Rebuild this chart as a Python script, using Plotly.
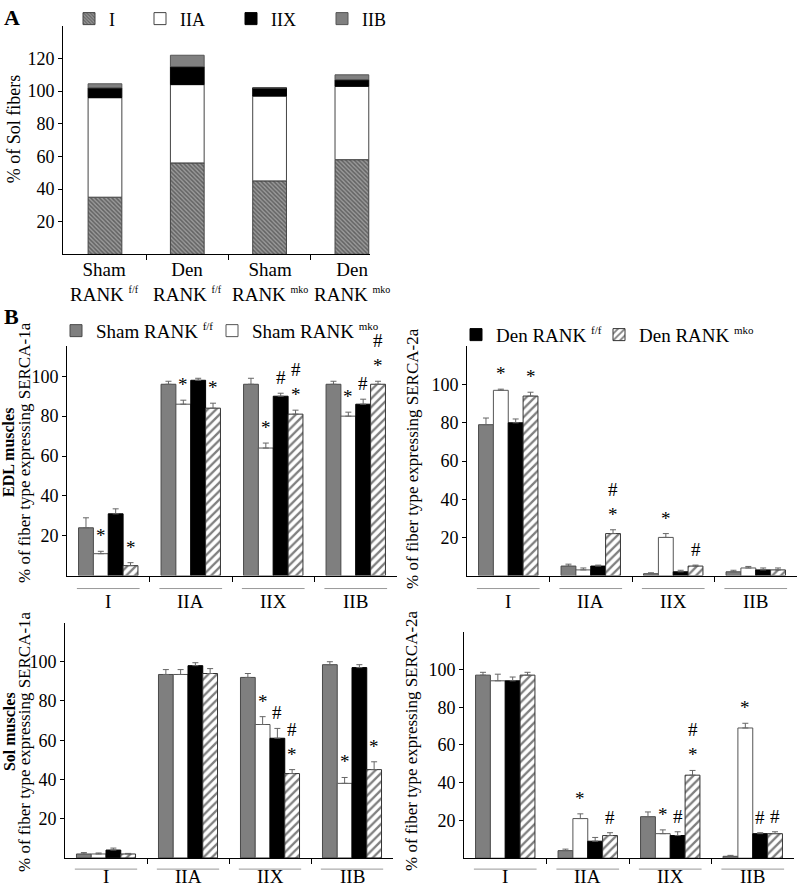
import numpy as np
import plotly.graph_objects as go

W, H = 800, 887
FONT = "Liberation Serif"

# ---------------- data ----------------
# Panel A: stacked % of Sol fibers
a_groups = ["Sham", "Den", "Sham", "Den"]
a_geno = ["f/f", "f/f", "mko", "mko"]
a_types = ["I", "IIA", "IIX", "IIB"]
a_I = [35, 56, 45, 58]
a_IIA = [61, 48, 52, 45]
a_IIX = [6, 11, 5, 4]
a_IIB = [2.5, 7, 0, 3]

# Panel B
fiber_types = ["I", "IIA", "IIX", "IIB"]
series_labels = ["Sham RANK", "Sham RANK", "Den RANK", "Den RANK"]
series_geno = ["f/f", "mko", "f/f", "mko"]

# EDL SERCA-1a
edl1_sham_ff = [24, 96, 96, 96]
edl1_sham_ff_err = [5, 1.5, 3, 1.5]
edl1_sham_mko = [11, 86, 64, 80]
edl1_sham_mko_err = [1.2, 2, 2.5, 2]
edl1_den_ff = [31, 98, 90, 86]
edl1_den_ff_err = [2.5, 1, 1.5, 2.5]
edl1_den_mko = [5, 84, 81, 96]
edl1_den_mko_err = [1.5, 2.5, 2, 1.5]
edl1_marks = [["", "", "", ""], ["*", "*", "*", "*"],
              ["", "", "#", "#"], ["*", "*", "#<br>*", "#<br>*"]]

# EDL SERCA-2a
edl2_sham_ff = [79, 5, 1, 2]
edl2_sham_ff_err = [3.5, 1, 0.5, 0.8]
edl2_sham_mko = [97, 3, 20, 4]
edl2_sham_mko_err = [0.6, 1, 2, 0.8]
edl2_den_ff = [80, 5, 2, 3]
edl2_den_ff_err = [2, 0.5, 0.8, 1]
edl2_den_mko = [94, 22, 5, 3]
edl2_den_mko_err = [2, 2, 0.5, 1]
edl2_marks = [["", "", "", ""], ["*", "", "*", ""],
              ["", "", "", ""], ["*", "#<br>*", "#", ""]]

# Sol SERCA-1a
sol1_sham_ff = [2, 93.5, 92, 98.5]
sol1_sham_ff_err = [0.7, 2.5, 2, 1.5]
sol1_sham_mko = [2, 93.5, 68, 38]
sol1_sham_mko_err = [0.5, 2.5, 4, 3]
sol1_den_ff = [4, 98, 61, 97]
sol1_den_ff_err = [1, 1.5, 5, 1.5]
sol1_den_mko = [2, 94, 43, 45]
sol1_den_mko_err = [0.3, 2.5, 2, 4]
sol1_marks = [["", "", "", ""], ["", "", "*", "*"],
              ["", "", "#", ""], ["", "", "#<br>*", "*"]]

# Sol SERCA-2a
sol2_sham_ff = [97, 4, 22, 1]
sol2_sham_ff_err = [1.5, 0.8, 2.5, 0.5]
sol2_sham_mko = [94, 21, 13, 69]
sol2_sham_mko_err = [3.5, 2.5, 2, 2.5]
sol2_den_ff = [94, 9, 12, 13]
sol2_den_ff_err = [2, 2, 2, 0.5]
sol2_den_mko = [97, 12, 44, 13]
sol2_den_mko_err = [1.5, 1.5, 2.5, 1]
sol2_marks = [["", "", "", ""], ["", "*", "*", "*"],
              ["", "", "#", "#"], ["", "#", "#<br>*", "#"]]

# ---------------- helpers ----------------
def px(x):
    return x / W

def py(y):
    return 1 - y / H

def sup(t, size=10):
    return f"<sup><span style='font-size:{size}px'>{t}</span></sup>"

fig = go.Figure()
annotations = []
shapes = []

def ann(text, x, y, size, xref="paper", yref="paper", angle=0,
        xanchor="center", yanchor="middle", yshift=0, color="black"):
    annotations.append(dict(text=text, x=x, y=y, xref=xref, yref=yref,
                            showarrow=False, textangle=angle,
                            xanchor=xanchor, yanchor=yanchor, yshift=yshift,
                            font=dict(family=FONT, size=size, color=color)))

styles = [
    dict(color="#7f7f7f", line=dict(color="#4a4a4a", width=1)),
    dict(color="white", line=dict(color="#555555", width=1)),
    dict(color="black", line=dict(color="black", width=1)),
    dict(color="white", line=dict(color="#333333", width=1),
         pattern=dict(shape="/", fgcolor="black", bgcolor="white",
                      size=6, solidity=0.38)),
]

# ---------------- Panel A ----------------
x4 = np.arange(4)
a_stack = [a_I, a_IIA, a_IIX, a_IIB]
a_styles = [
    dict(color="#888888", line=dict(color="#444444", width=1),
         pattern=dict(shape="\\", fgcolor="#2a2a2a", bgcolor="#9a9a9a",
                      size=3, solidity=0.5)),
    dict(color="white", line=dict(color="#444444", width=1)),
    dict(color="black", line=dict(color="black", width=1)),
    dict(color="#808080", line=dict(color="#555555", width=1)),
]
base = np.zeros(4)
a_leg_x = [91, 162, 253, 344]
for k, (vals, name) in enumerate(zip(a_stack, a_types)):
    v = np.array(vals, dtype=float)
    fig.add_trace(go.Bar(x=x4, y=v, base=base.copy(), width=0.41, offset=-0.205,
                         marker=a_styles[k], name=name, xaxis="x", yaxis="y",
                         legend="legend" if k == 0 else f"legend{k+1}",
                         hoverinfo="skip"))
    base = base + v

# ---------------- Panel B ----------------
panels = [
    (2, [edl1_sham_ff, edl1_sham_mko, edl1_den_ff, edl1_den_mko],
     [edl1_sham_ff_err, edl1_sham_mko_err, edl1_den_ff_err, edl1_den_mko_err], edl1_marks),
    (3, [edl2_sham_ff, edl2_sham_mko, edl2_den_ff, edl2_den_mko],
     [edl2_sham_ff_err, edl2_sham_mko_err, edl2_den_ff_err, edl2_den_mko_err], edl2_marks),
    (4, [sol1_sham_ff, sol1_sham_mko, sol1_den_ff, sol1_den_mko],
     [sol1_sham_ff_err, sol1_sham_mko_err, sol1_den_ff_err, sol1_den_mko_err], sol1_marks),
    (5, [sol2_sham_ff, sol2_sham_mko, sol2_den_ff, sol2_den_mko],
     [sol2_sham_ff_err, sol2_sham_mko_err, sol2_den_ff_err, sol2_den_mko_err], sol2_marks),
]
BW = 0.18
for (k, vals, errs, marks) in panels:
    for j in range(4):
        off = -2 * BW + j * BW
        fig.add_trace(go.Bar(
            x=x4, y=vals[j], width=BW, offset=off, marker=styles[j],
            name=f"{series_labels[j]} {sup(series_geno[j], 11)}",
            xaxis=f"x{k}", yaxis=f"y{k}",
            showlegend=(k == 2), legend=f"legend{5 + j}",
            error_y=dict(type="data", symmetric=False, array=errs[j],
                         arrayminus=[0] * 4, color="#666666",
                         thickness=1, width=3),
            hoverinfo="skip"))
        for g in range(4):
            m = marks[j][g]
            if m:
                ann(m, g + off + BW / 2, vals[j][g] + errs[j][g], 19,
                    xref=f"x{k}", yref=f"y{k}", yanchor="bottom", yshift=3)

# ---------------- axes ----------------
def yax(domain, rng, size, anchor):
    return dict(domain=domain, range=rng, anchor=anchor, showline=True,
                linecolor="black", linewidth=1, showgrid=False, zeroline=False,
                ticks="outside", ticklen=4, tickcolor="black",
                tickvals=[20, 40, 60, 80, 100] + ([120] if rng[1] >= 130 else []),
                tickfont=dict(family=FONT, size=size, color="black"),
                fixedrange=True)

def xax(domain, rng, anchor):
    return dict(domain=domain, range=rng, anchor=anchor, showline=True,
                linecolor="black", linewidth=1, showgrid=False, zeroline=False,
                ticks="outside", ticklen=5, tickcolor="black",
                tickvals=[0.5, 1.5, 2.5], showticklabels=False, fixedrange=True)

# pixel geometry: (x_left, x_right, y_zero, y_top)
geo = {
    1: (63, 370, 250, 20, [-0.51, 3.22], [0, 140], 18),
    2: (67, 397, 573.5, 342.7, [-0.5, 3.5], [0, 115], 18),
    3: (467, 797, 573.5, 342.7, [-0.5, 3.5], [0, 120], 18),
    4: (65, 393, 857.7, 620.7, [-0.5, 3.5], [0, 120], 18),
    5: (464, 794, 858, 630, [-0.5, 3.5], [0, 120], 18),
}
layout_axes = {}
for k, (xl, xr, yz, yt, xr_, yr_, fs) in geo.items():
    suf = "" if k == 1 else str(k)
    layout_axes[f"xaxis{suf}"] = xax([px(xl), px(xr)], xr_, f"y{suf}")
    layout_axes[f"yaxis{suf}"] = yax([py(yz), py(yt)], yr_, fs, f"x{suf}")

# ---------------- text ----------------
ann("<b>A</b>", px(2), py(12), 22, xanchor="left")
ann("<b>B</b>", px(2), py(313), 22, xanchor="left")

ann("% of Sol fibers", px(14), py(124), 18, angle=-90)
for i in range(4):
    ann(f"{a_groups[i]}<br>RANK {sup(a_geno[i])}", i, py(278), 19, xref="x")

ann("<b>EDL muscles</b>", px(9), py(450), 16, angle=-90)
ann("% of fiber type expressing SERCA-1a", px(25), py(450), 17, angle=-90)
ann("% of fiber type expressing SERCA-2a", px(413), py(456), 17, angle=-90)
ann("<b>Sol muscles</b>", px(9), py(731), 16, angle=-90)
ann("% of fiber type expressing SERCA-1a", px(25), py(741), 17, angle=-90)
ann("% of fiber type expressing SERCA-2a", px(412), py(740), 17, angle=-90)

for k, uline, lab in [(2, 586.5, 600), (3, 586.5, 600), (4, 869, 876), (5, 869, 876)]:
    for g, t in enumerate(fiber_types):
        ann(t, g, py(lab), 19, xref=f"x{k}")
        shapes.append(dict(type="line", xref=f"x{k}", yref="paper",
                           x0=g - 0.38, x1=g + 0.38, y0=py(uline), y1=py(uline),
                           line=dict(color="#999999", width=1)))

# ---------------- legends ----------------
def leg(xc, yc, size):
    return dict(x=px(xc - 22), y=py(yc), xanchor="left", yanchor="middle",
                orientation="h", bgcolor="rgba(0,0,0,0)", borderwidth=0,
                font=dict(family=FONT, size=size, color="black"),
                itemwidth=30)

legends = {}
for i, xc in enumerate(a_leg_x):
    key = "legend" if i == 0 else f"legend{i+1}"
    legends[key] = leg(xc, 13, 18)
b_leg = [(78, 327), (234, 327), (478, 331), (621, 331)]
for j, (xc, yc) in enumerate(b_leg):
    legends[f"legend{5 + j}"] = leg(xc, yc, 19)

fig.update_layout(
    width=W, height=H, margin=dict(l=0, r=0, t=0, b=0),
    paper_bgcolor="white", plot_bgcolor="white",
    barmode="overlay", showlegend=True,
    annotations=annotations, shapes=shapes,
    font=dict(family=FONT, color="black"),
    **layout_axes, **legends,
)

fig.write_html("out.html",
               config={"displayModeBar": False},
               post_script="document.body.style.margin='0';"
                           "document.body.style.overflow='hidden';")
